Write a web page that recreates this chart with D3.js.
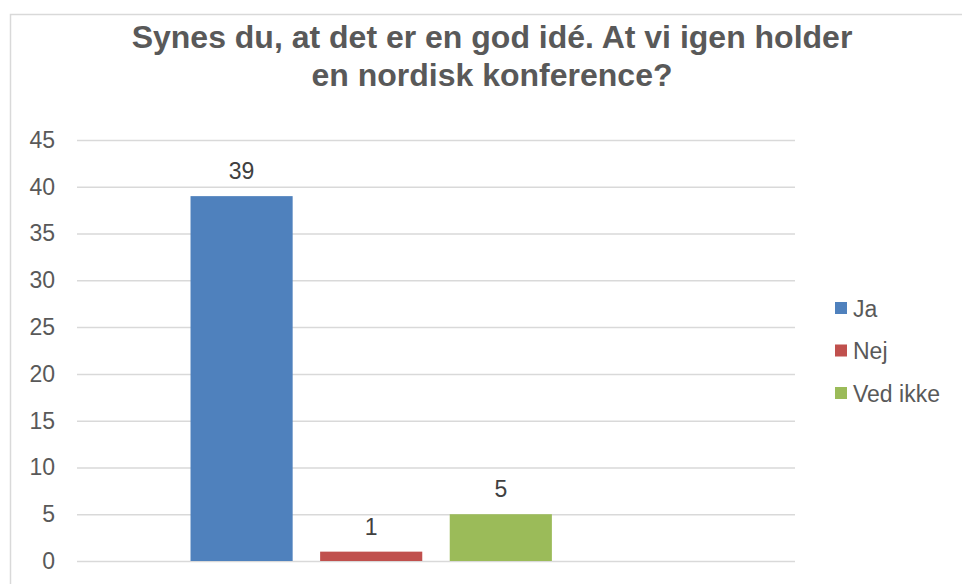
<!DOCTYPE html>
<html>
<head>
<meta charset="utf-8">
<script src="https://cdn.jsdelivr.net/npm/d3@7"></script>
<style>
  body { margin: 0; background: #fff; }
  svg { display: block; font-family: Arial, "Liberation Sans", sans-serif; }
</style>
</head>
<body>
<div class="chart"></div>
<script>
const titleLines = ['Synes du, at det er en god idé. At vi igen holder', 'en nordisk konference?'];
const seriesNames = ['Ja', 'Nej', 'Ved ikke', ''];
const seriesValues = [39, 1, 5, null];
const seriesColors = ['#4f81bd', '#c0504d', '#9bbb59', 'none'];
const yTicks = [0, 5, 10, 15, 20, 25, 30, 35, 40, 45];

function displayChart() {
  const w = 962;
  const h = 584;
  const plot = { left: 77, right: 795, top: 140, bottom: 561 };

  const svg = d3.select('.chart')
    .append('svg')
    .attr('width', w)
    .attr('height', h);

  // chart area border (bottom runs off the picture)
  svg.append('rect')
    .attr('x', 10.5)
    .attr('y', 14.5)
    .attr('width', 980)
    .attr('height', 600)
    .attr('fill', '#fff')
    .attr('stroke', '#d9d9d9')
    .attr('stroke-width', 1.5);

  svg.append('text')
    .attr('text-anchor', 'middle')
    .attr('fill', '#595959')
    .attr('font-size', 32)
    .attr('font-weight', 'bold')
    .selectAll('tspan')
    .data(titleLines)
    .enter()
    .append('tspan')
    .attr('x', 492)
    .attr('y', (d, i) => 48 + i * 38)
    .text(d => d);

  const yScale = d3.scaleLinear()
    .domain([0, 45])
    .range([plot.bottom, plot.top]);

  const x0 = d3.scaleBand()
    .domain(['group'])
    .range([plot.left, plot.right])
    .padding(0.1878);

  const x1 = d3.scaleBand()
    .domain(seriesNames)
    .range([0, x0.bandwidth()])
    .paddingInner(0.212);

  const yAxis = svg.append('g')
    .attr('transform', `translate(${plot.left}, 0)`)
    .call(d3.axisLeft(yScale).tickValues(yTicks).tickSize(-(plot.right - plot.left)).tickPadding(22));

  yAxis.select('.domain').remove();
  yAxis.selectAll('.tick line')
    .attr('stroke', '#d9d9d9')
    .attr('stroke-width', 1.5);
  yAxis.selectAll('.tick text')
    .attr('fill', '#595959')
    .attr('font-size', 23)
    .attr('font-family', 'Arial, "Liberation Sans", sans-serif');

  const bars = seriesNames.map((name, i) => ({ name, value: seriesValues[i], color: seriesColors[i] }))
    .filter(d => d.value !== null);

  const g = svg.append('g')
    .attr('transform', `translate(${x0('group')}, 0)`);

  g.selectAll('rect')
    .data(bars)
    .enter()
    .append('rect')
    .attr('x', d => x1(d.name))
    .attr('y', d => yScale(d.value))
    .attr('width', x1.bandwidth())
    .attr('height', d => yScale(0) - yScale(d.value))
    .attr('fill', d => d.color);

  g.selectAll('.label')
    .data(bars)
    .enter()
    .append('text')
    .attr('class', 'label')
    .attr('x', d => x1(d.name) + x1.bandwidth() / 2)
    .attr('y', d => yScale(d.value) - 17)
    .attr('text-anchor', 'middle')
    .attr('fill', '#404040')
    .attr('font-size', 23)
    .text(d => d.value);

  const legend = svg.append('g')
    .attr('transform', 'translate(835, 302)');

  const items = legend.selectAll('g')
    .data(bars)
    .enter()
    .append('g')
    .attr('transform', (d, i) => `translate(0, ${i * 42.5})`);

  items.append('rect')
    .attr('width', 12)
    .attr('height', 12)
    .attr('fill', d => d.color);

  items.append('text')
    .attr('x', 18)
    .attr('y', 14.5)
    .attr('fill', '#595959')
    .attr('font-size', 23)
    .text(d => d.name);
}

displayChart();
</script>
</body>
</html>
